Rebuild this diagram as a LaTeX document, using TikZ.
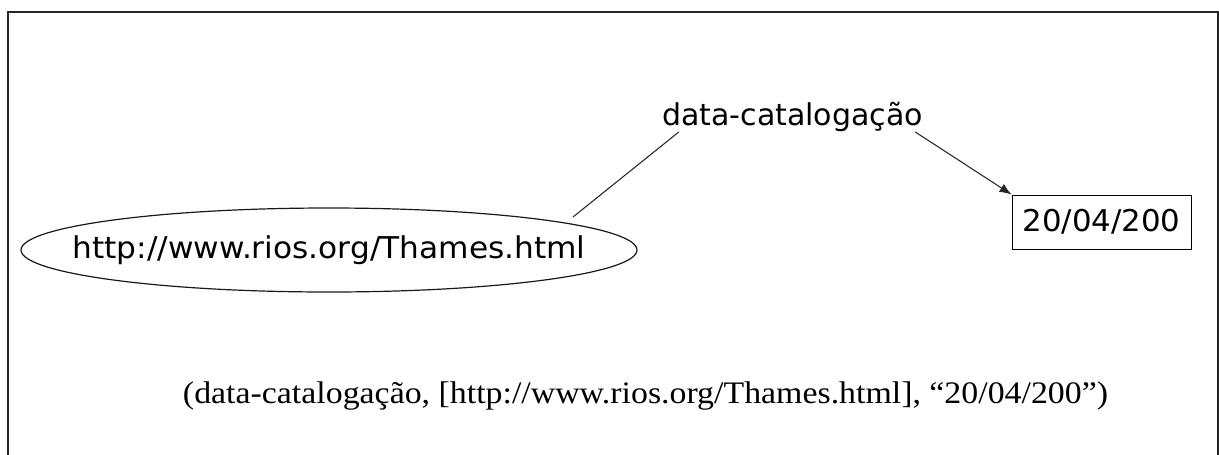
\documentclass[tikz,border=0pt]{standalone}
\usepackage{fontspec}
\usepackage{graphicx}
\setmainfont{Liberation Serif}
\newfontfamily\dejavu{DejaVu Sans}
\usetikzlibrary{shapes.geometric,arrows.meta,calc}
\begin{document}
\begin{tikzpicture}[x=0.75pt,y=-0.75pt,
  sanslbl/.style={font=\dejavu\fontsize{22.5}{27}\selectfont, inner sep=0pt},
  conn/.style={line width=0.8pt, black!85},
  frameline/.style={line width=1.5pt, black!85}]
\useasboundingbox (0,0) rectangle (1219,454);
\draw[frameline] (8,455) -- (8,12) -- (1217.5,12) -- (1217.5,455);

\node[sanslbl, anchor=base] (pred) at (792.5,125) {\resizebox{195.75pt}{\height}{data-catalogação}};
\node[ellipse, draw, line width=0.9pt, black!90, inner sep=0pt,
      minimum width=462pt, minimum height=63pt] (subj) at (329,250) {};
\node[sanslbl] (subjtext) at (subj.center)
      {\resizebox{384.75pt}{\height}{http://www.rios.org/Thames.html}};
\node[sanslbl, draw, line width=0.75pt, minimum width=134.25pt, minimum height=40.5pt] (obj) at (1101.5,222)
      {\resizebox{118.5pt}{\height}{20/04/200}};

\coordinate (s1) at ($(subj.center)+(244,-33)$);
\coordinate (p1) at ($(pred.base west)+(17,7)$);
\coordinate (p2) at ($(pred.base east)+(-8,7)$);
\draw[conn] (s1) -- (p1);
\draw[conn, -{Latex[length=9pt,width=7pt]}] (p2) -- (obj.north west);

\node[anchor=base, inner sep=0pt, font=\fontsize{23.5}{27}\selectfont] (triple) at (645.5,403)
  {\resizebox{693.75pt}{\height}{(data-catalogação, [http://www.rios.org/Thames.html], “20/04/200”)}};
\end{tikzpicture}
\end{document}
